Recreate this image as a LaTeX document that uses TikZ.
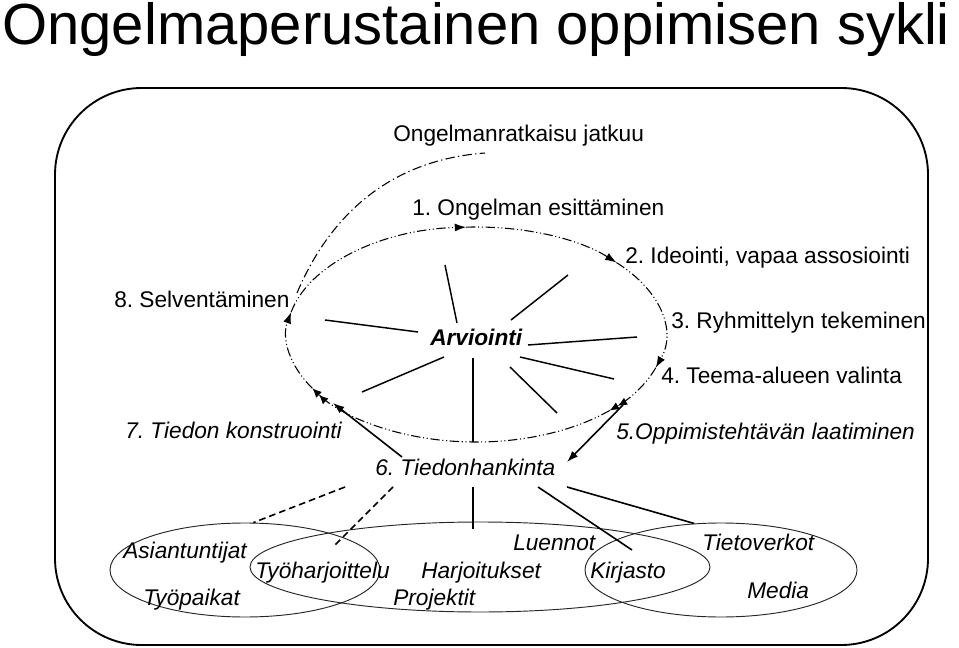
\documentclass[tikz,border=0pt]{standalone}
\usepackage{fontspec}
\setmainfont{Liberation Sans}
\usetikzlibrary{arrows.meta,shapes.geometric,calc}
\frenchspacing

\tikzset{
  lbl/.style={anchor=base west, inner sep=0pt, font=\fontsize{17}{20}\selectfont},
  ilbl/.style={lbl, font=\fontsize{17}{20}\selectfont\itshape},
  loopline/.style={line width=0.8pt, dash pattern=on 7pt off 2pt on 0.8pt off 2pt on 0.8pt off 2pt},
  outerline/.style={line width=0.8pt, dash pattern=on 7pt off 2.5pt on 1pt off 2.5pt},
  sarr/.style={-{Latex[length=8.5pt,width=6pt]}},
  darr/.style={-{Latex[length=7pt,width=6pt]Latex[length=7pt,width=6pt]}},
  spoke/.style={line width=1.1pt},
  feed/.style={line width=1.2pt},
  hint/.style={line width=1.2pt, dash pattern=on 5pt off 3pt},
  grp/.style={draw=black!85, line width=0.7pt, ellipse, inner sep=0pt},
}

\begin{document}
\begin{tikzpicture}[x=0.75pt,y=0.75pt,yscale=-1,xscale=1]
\useasboundingbox (0,0) rectangle (959,648);

% Title
\node[anchor=base west, inner sep=0pt, font=\fontsize{43.5}{50}\selectfont] (otsikko) at (2,45) {Ongelmaperustainen oppimisen sykli};

%Rounded frame
\draw[line width=1.4pt, rounded corners=65pt] (55,88) rectangle (928,645);

%Cycle round Arviointi
\coordinate (lc) at (476,334.5);
\foreach \a/\b/\s in {318/378/sarr, 18/45/darr, 45/150/darr, 150/192/sarr, 192/267/sarr, 267/318/sarr}
  \draw[loopline,\s] ($(lc)+(\a:189 and 107.5)$) arc[start angle=\a, end angle=\b, x radius=189, y radius=107.5];

%Curve out of the cycle
\draw[outerline] (297,293) .. controls (330,215) and (390,160) .. (485,153);

%Spokes
\foreach \xa/\ya/\xb/\yb in {445/265/457/323, 568/275/511/320, 325/320/418/332, 528/345/637/337,
                             520/357/614/379, 510/367/557/413, 473/358/473/442, 444/357/362/392}
  \draw[spoke] (\xa,\ya) -- (\xb,\yb);

% Text Node
\node[lbl] (jatkuu) at (393,142) {Ongelmanratkaisu jatkuu};
\node[lbl] (s1) at (412,216) {1. Ongelman esittäminen};
\node[lbl] (s2) at (625,264) {2. Ideointi, vapaa assosiointi};
\node[lbl] (s3) at (671,328) {3. Ryhmittelyn tekeminen};
\node[lbl] (s4) at (661,383) {4. Teema-alueen valinta};
\node[ilbl] (s5) at (616,439) {5.Oppimistehtävän laatiminen};
\node[ilbl] (s6) at (375,475) {6. Tiedonhankinta};
\node[ilbl] (s7) at (125,438) {7. Tiedon konstruointi};
\node[lbl] (s8) at (114,307) {8. Selventäminen};
\node[lbl, font=\fontsize{17}{20}\selectfont\bfseries\itshape] (arv) at (430,345) {Arviointi};

%Steps 5 -> 6 -> 7
\coordinate (p5) at (623,405);
\coordinate (p6) at (567,462);
\draw[feed,sarr] (p5) -- (p6);
\coordinate (q6) at (402,457);
\coordinate (q7) at (333,403);
\draw[feed,sarr] (q6) -- (q7);

%Sources
\node[grp, minimum width=202.5pt, minimum height=70.5pt] (e1) at (245,570) {};
\node[grp, minimum width=345pt, minimum height=67.5pt] (e2) at (480,567) {};
\node[grp, minimum width=204pt, minimum height=70.5pt] (e3) at (721,570) {};

\node[ilbl] (asi) at (123,558) {Asiantuntijat};
\node[ilbl] (tyh) at (255,578) {Työharjoittelu};
\node[ilbl] (typ) at (143,605) {Työpaikat};
\node[ilbl] (har) at (421,578) {Harjoitukset};
\node[ilbl] (pro) at (393,605) {Projektit};
\node[ilbl] (lue) at (513,550) {Luennot};
\node[ilbl] (kir) at (590,578) {Kirjasto};
\node[ilbl] (tie) at (702,550) {Tietoverkot};
\node[ilbl] (med) at (747,598) {Media};

%From Tiedonhankinta to the sources
\coordinate (h1) at (345,487);
\coordinate (h2) at (393,487);
\coordinate (h2e) at (333,547);
\coordinate (h3) at (473,487);
\coordinate (h3e) at (473,529);
\coordinate (h4) at (538,487);
\coordinate (h4e) at (632,550);
\coordinate (h5) at (567,487);
\draw[hint] (h1) -- (e1.80);
\draw[hint] (h2) -- (h2e);
\draw[feed] (h3) -- (h3e);
\draw[feed] (h4) -- (h4e);
\draw[feed] (h5) -- (e3.120);

\end{tikzpicture}
\end{document}
